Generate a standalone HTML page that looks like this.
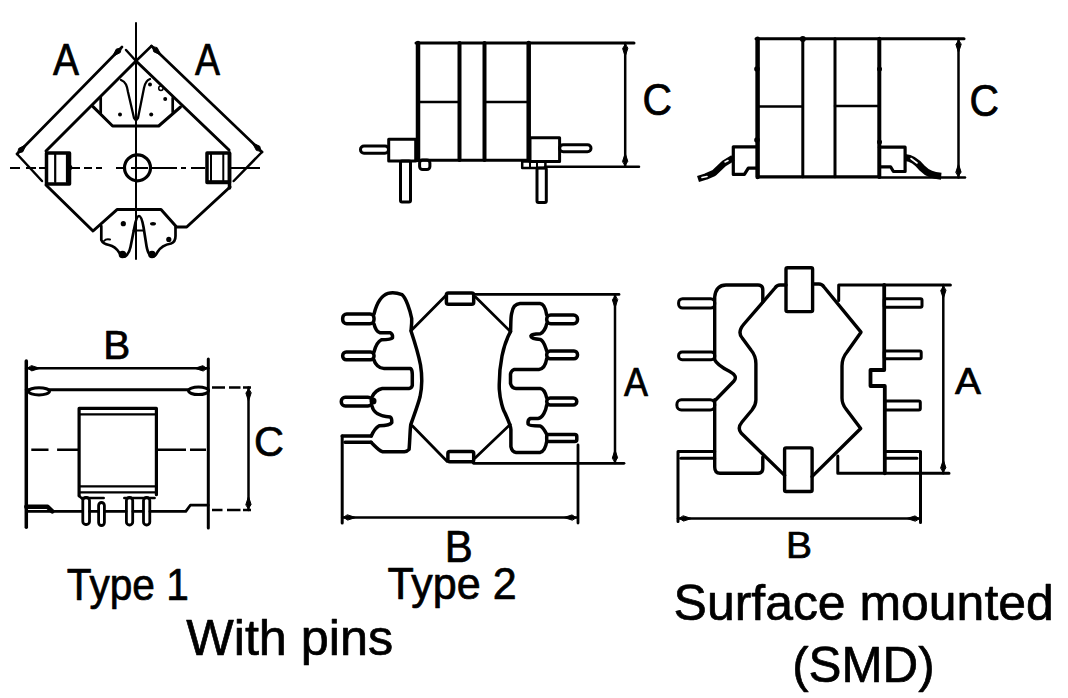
<!DOCTYPE html>
<html><head><meta charset="utf-8">
<style>
html,body{margin:0;padding:0;background:#fff;}
body{width:1068px;height:698px;overflow:hidden;}
svg{display:block;}
text{font-family:"Liberation Sans",sans-serif;fill:#000;}
</style></head>
<body>
<svg width="1068" height="698" viewBox="0 0 1068 698">
<rect width="1068" height="698" fill="#fff"/>
<g fill="none" stroke="#000" stroke-width="2.5" stroke-linejoin="round" stroke-linecap="round">

<!-- ============ TOP LEFT ============ -->
<g id="tl">
<line x1="136" y1="23" x2="136" y2="259" stroke-width="2"/>
<path d="M10,168 H20 M26,168 H36 M39,168 H45 M72,168 H80 M84,168 H92 M96,168 H102 M116,168 H124 M131,168 H148 M150,168 H177 M181,168 H186 M191,168 H205 M230,168 H260" stroke-width="2.2" stroke-linecap="butt"/>
<circle cx="137.5" cy="167.8" r="13" stroke-width="3.2"/>
<path d="M17,154 L122,47" stroke-width="2.7"/>
<path d="M151.5,46 L262,152" stroke-width="2.7"/>
<path d="M126,50 L136,61 L151.5,46" stroke-width="2.5"/>
<path d="M17,154 L42,181"/>
<path d="M262,152 L233.7,181"/>
<path d="M46,151 L136,61 L229,150" stroke-width="3"/>
<rect x="46.5" y="153" width="23" height="31" stroke-width="3.5"/>
<path d="M55.2,154 V182 M67,154 V182" stroke-width="2.2"/>
<circle cx="69.5" cy="167.6" r="2.8" fill="#000" stroke="none"/>
<rect x="207" y="153" width="22.5" height="29.5" stroke-width="3.5"/>
<path d="M211,154 V181 M223.3,154 V181" stroke-width="2"/>
<path d="M229.5,153 V188" stroke-width="3.5"/>
<path d="M208,181.5 H229" stroke-width="2.5"/>
<!-- upper ear -->
<path d="M93,106.6 L112.6,126 H158.7 L180.5,107" stroke-width="3"/>
<path d="M100.7,97 V113 M172.7,98 V112" stroke-width="2.7"/>
<path d="M121,80 C126,82 127,86 128,92 L134,118 Q136,122 138,118 L144,88 C145,83 147,80 150,79" stroke-width="2.3"/>
<!-- lower body -->
<path d="M46,185 L93,231 L117,209.6 H161 L176.6,227 H186.7 L230,187" stroke-width="3"/>
<path d="M101.3,226 V240 Q103,244 109,245 C114,246 117,249 119.5,253 Q122,257.5 125,256.5 Q129,254 130.5,247 L134.5,227 Q136.5,216 139,216 Q141.5,216 143.5,227 L146.5,246 Q148,255 152,256.5 Q155,257 157.5,252 C160,248 165,244.5 171,243.5 Q175.5,242 175.5,236 V227" stroke-width="2.7"/>
<path d="M133.5,230.5 H143.5" stroke-width="2"/>
<path d="M104,241 Q106,238.5 110,239.5" stroke-width="2"/>
</g>
<g id="tl-dots" fill="#000" stroke="none">
<circle cx="120" cy="114.6" r="2"/><circle cx="151.2" cy="114.6" r="2"/><circle cx="150" cy="84.5" r="2"/><circle cx="165.2" cy="99" r="2"/>
<circle cx="123.3" cy="223.7" r="2.6"/><ellipse cx="153" cy="223.7" rx="3" ry="1.8"/><circle cx="168.8" cy="239.4" r="2.6"/>
<circle cx="122.5" cy="254.5" r="3.8"/><circle cx="152" cy="254.5" r="3.8"/><circle cx="160.9" cy="88.3" r="2.2" fill="none" stroke="#000" stroke-width="1.5"/>
</g>

<!-- ============ TOP MIDDLE ============ -->
<g id="tm">
<path d="M416,43 H634" stroke-width="3"/>
<path d="M418,43 V160" stroke-width="4.5"/>
<path d="M459.5,43 V160 M484.5,43 V160" stroke-width="4"/>
<path d="M528.7,43 V160" stroke-width="4.5"/>
<path d="M418,160.2 H528.7" stroke-width="3"/>
<path d="M419,102 H459.5 M484.5,102 H528.7" stroke-width="2.5"/>
<path d="M545,166.8 H639" stroke-width="2.5"/>
<path d="M625.2,43 V166.8" stroke-width="2.5"/>
<rect x="388.7" y="139.3" width="27" height="21.7" stroke-width="3"/>
<rect x="360.5" y="146" width="28" height="7.2" rx="3.5" stroke-width="3"/>
<rect x="400.5" y="161" width="10" height="41" rx="1.5" stroke-width="3"/>
<rect x="419.6" y="160" width="10.3" height="9.5" rx="3" stroke-width="3"/>
<rect x="530" y="137.8" width="29.6" height="23.7" stroke-width="3"/>
<rect x="559.6" y="144.7" width="31.4" height="7" rx="3.5" stroke-width="3"/>
<rect x="522.2" y="161.5" width="23.2" height="6.4" stroke-width="2.5"/>
<path d="M530,161.5 V168 M537,161.5 V168" stroke-width="2"/>
<rect x="537" y="168" width="9.3" height="34.5" rx="1.5" stroke-width="3"/>
</g>

<!-- ============ TOP RIGHT ============ -->
<g id="tr">
<path d="M756,38.7 H964" stroke-width="3"/>
<path d="M757.6,38.7 V177" stroke-width="4.5"/>
<path d="M879.3,38.7 V177" stroke-width="4"/>
<path d="M757.6,176.8 H879.3" stroke-width="3.2"/>
<path d="M802.8,38.7 V176.7 M835,38.7 V176.7" stroke-width="3"/>
<path d="M757.6,106.5 H802.8 M835,106 H879.3" stroke-width="2.5"/>
<path d="M879.3,177.6 H965" stroke-width="2.5"/>
<path d="M958.5,39 V177.6" stroke-width="2.5"/>
<circle cx="802.8" cy="39" r="3" fill="#000" stroke="none"/>
<circle cx="757" cy="69" r="2.8" fill="#000" stroke="none"/>
<circle cx="757" cy="140" r="2.8" fill="#000" stroke="none"/>
<circle cx="879.5" cy="69" r="2.5" fill="#000" stroke="none"/>
<circle cx="879.5" cy="142" r="2.5" fill="#000" stroke="none"/>
<path d="M757,146.8 H733.3 V174.4 H744.4 L748.3,168.1 H757" stroke-width="3.2"/>
<path d="M733,158 L724,163.5 L714,173 L706,176.5 L698,179" stroke-width="6.5" stroke-linecap="butt"/>
<path d="M728,160.5 L725,162" stroke="#fff" stroke-width="1.6"/>
<path d="M707,176.5 L702,177.5" stroke="#fff" stroke-width="1.6"/>
<path d="M879.3,147.2 H905.1 V171.5 H893.4 L890.6,166.8 H881" stroke-width="3.2"/>
<path d="M905,157.5 C913,158 918,163 922,168 C928,174 933,175.5 941.2,176.2" stroke-width="7" stroke-linecap="butt"/>
<path d="M911,158.5 L917,163" stroke="#fff" stroke-width="1.6"/>
</g>

<!-- ============ BOTTOM LEFT ============ -->
<g id="bl">
<path d="M26.3,361 V527.3" stroke-width="3.5"/>
<path d="M208.3,359 V528" stroke-width="3"/>
<path d="M26.3,368.3 H208.3" stroke-width="2.5"/>
<path d="M26.3,389.8 H208.3" stroke-width="3"/>
<ellipse cx="39" cy="391.3" rx="10.5" ry="3.6" stroke-width="3" fill="#fff"/>
<ellipse cx="198.5" cy="390.8" rx="10" ry="3.8" stroke-width="3" fill="#fff"/>
<path d="M26.3,511.4 H82 M89.5,511.4 H98 M104.5,511.4 H126 M133,511.4 H143 M150,511.4 H185.8 L190.3,505.2 H208.3" stroke-width="2.8"/>
<path d="M26.3,506.8 H47.6 L52.3,511.4" stroke-width="4.5"/>
<path d="M212,387.6 H225 M229,387.6 H240.5 M243,387.6 H251" stroke-width="2.5" stroke-linecap="butt"/>
<path d="M212,510 H222.5 M227,510 H240.5 M243,510 H251" stroke-width="2.5" stroke-linecap="butt"/>
<path d="M248.5,387.6 V510" stroke-width="2.5"/>
<path d="M31.3,449.7 H48.5 M57.1,449.7 H79.3 M156.7,449.7 H186 M190,449.7 H206" stroke-width="2.5" stroke-linecap="butt"/>
<path d="M79.1,495.8 V408.4 H156.4 V494.7" stroke-width="3.2"/>
<path d="M79.1,414.4 H156.4" stroke-width="2.3"/>
<path d="M79.1,486.4 H156.4 M79.1,492.3 H156.4" stroke-width="2.3"/>
<path d="M79.1,495.8 L82.3,498.9" stroke-width="2.5"/>
<path d="M82.2,497.9 H103.7 M124.3,497.9 H154.6" stroke-width="2.5"/>
<rect x="82.8" y="497.5" width="6.7" height="27" rx="3" stroke-width="2.8"/>
<rect x="98.6" y="502.5" width="5.8" height="23" rx="2.9" stroke-width="2.8"/>
<rect x="126.4" y="497.5" width="6.3" height="27.5" rx="3" stroke-width="2.8"/>
<rect x="143.5" y="497.5" width="6.3" height="27.5" rx="3" stroke-width="2.8"/>
</g>

<!-- ============ BOTTOM MIDDLE ============ -->
<g id="bm" stroke-width="3.5">
<path d="M473.5,294.4 H619" stroke-width="2.8"/>
<path d="M473.5,463.3 H624" stroke-width="2.8"/>
<path d="M615,295 V463" stroke-width="2.5"/>
<path d="M342.2,436 V523" stroke-width="3"/>
<path d="M578,445 V523" stroke-width="2.8"/>
<path d="M342.2,517.5 H577.5" stroke-width="2.5"/>
<rect x="446.4" y="293" width="27.3" height="11.3" rx="2"/>
<rect x="447.9" y="451.6" width="25.8" height="10.1" rx="2"/>
<path d="M446.4,295 L411,330.8 M475.8,297.2 L510.5,331.6 M447,461.2 L412.3,425.7 M475.1,458.1 L510.2,424.4" stroke-width="2.8"/>
<!-- left comb -->
<path d="M374,314 C376,306 380,296 388,293.4 Q394,291.5 402,294.7 C406,298 410,310 411.7,318.5 C412,324 411,330 411,331 C414,340 418,352 420.5,365 C422.5,377 422.5,385 420.1,396.5 C418,405 413,418 410.7,424.9 C409.9,432 409.9,440 409.1,449.4 Q407,451.7 404.4,451.7 H382.3 C378,450 375,446 371,442.3"/>
<path d="M374,324 C375,328 377,332 380,332.7 H390.4 Q393,334 392.5,337.8 Q391,339.5 381.4,339.8 C377,342 375.5,346 374,352"/>
<path d="M374,360 C375,364 379,368.5 384,368.5 H410.7 Q412.3,370 412.3,374.5 V385.5 Q411.5,388.2 409,388.5 H382.3 C377,389.5 374.5,392 372,397"/>
<path d="M372,406 C373,411 376,416 390.2,417 Q392,418 391.8,422.5 Q390,425.5 379.2,425.7 C375,428 373,432 371.3,436"/>
<rect x="342.7" y="314" width="31.3" height="9.7" rx="4"/>
<rect x="342.7" y="352" width="31.3" height="7.8" rx="3.5"/>
<rect x="341.3" y="397.3" width="30.7" height="8.7" rx="4"/>
<path d="M342.2,436 H371.3 M345,442.3 H371.3"/>
<circle cx="373" cy="401" r="3.5" fill="#000" stroke="none"/>
<!-- right comb -->
<path d="M510.5,331.6 C511,326 510.5,318 511.6,313.7 Q513,304 520,303.6 H540 Q545,304 546.7,315"/>
<path d="M510.5,331.6 C507,338 504,346 502,356 C500,366 499,378 499.3,389.3 C500,400 503,410 505,413 C508,420 510.9,426 510.9,429.4 V446.6 Q512,452 516,452.4 H540.3 C545,451 546,446 546.7,441.6"/>
<path d="M546.7,323.7 C546,328 543,333 540.3,333.7 C535,334 530,334.5 531,336.5 Q532,339 540.3,339.4 C544,341 545,346 546.7,350.9"/>
<path d="M546.7,358.8 C546,363 544,369 539,369.5 H514 Q511,371 510.5,374 V383.6 Q512,388.6 516,388.6 H540.3 C544,389 545.5,393 546.7,397.9"/>
<path d="M546.7,405 C546,410 543,418 538,418.5 H530 Q527.5,420 528.1,424 Q529,425.9 540.3,425.9 C544,428 545.5,432 546.7,434.5"/>
<rect x="546.7" y="315" width="30.8" height="8.7" rx="4"/>
<rect x="546.7" y="350.9" width="30.8" height="7.9" rx="3.5"/>
<rect x="546.7" y="397.9" width="30.1" height="7.1" rx="3.5"/>
<rect x="546.7" y="434.5" width="30.1" height="7.1" rx="2"/>
</g>

<!-- ============ BOTTOM RIGHT ============ -->
<g id="br" stroke-width="3.4">
<rect x="786" y="267.7" width="26.6" height="43.9" rx="1.5"/>
<rect x="784.6" y="447.9" width="27.5" height="43.6" rx="1.5"/>
<!-- center body -->
<path d="M786,285 H780 Q777,285 775,288 L744,324 Q737,332 742.2,338 L751,350 Q756,356 755.9,364 V400 Q755.9,405 752,410 L742,422 Q737,428 741.1,433 L784.6,475.4"/>
<path d="M812.6,284 H819 Q822,284 824,287 L861,332.2 L847,352 Q842,358 842,366 V398 Q842,404 846,409 L860.7,428.5 L812,476.6"/>
<!-- left piece -->
<path d="M762.8,302.1 V290 Q762.8,285 758,285 H726 Q716,285 714.7,297 V359.7 C717,365 725,369 730.1,371.7 Q738,376 734,381 L715.8,399.8 H714.7 V467 Q714.7,473.2 720,473.2 H758 Q762.8,473.2 762.8,468 V457.1"/>
<!-- right piece -->
<path d="M838.7,300.4 V285 H950.4" stroke-width="3"/>
<path d="M884.2,285 V370 H870.5 V386 H884.8 V473.3" stroke-width="3.8"/>
<path d="M837.8,456 V473.3 H949" stroke-width="3"/>
<path d="M943.3,285 V473.3" stroke-width="2.5"/>
<!-- pins -->
<rect x="678.6" y="298.7" width="36.1" height="9.4" rx="4" stroke-width="3"/>
<rect x="678.6" y="352" width="36.1" height="7.7" rx="3.5" stroke-width="3"/>
<rect x="676.9" y="399.8" width="37.8" height="10.3" rx="4.5" stroke-width="3"/>
<path d="M714.7,451.4 H678 V521.5 M714.7,458.3 H681" stroke-width="3"/>
<rect x="884.2" y="298.7" width="37.8" height="8.6" rx="1.5" stroke-width="3"/>
<rect x="884.2" y="351.1" width="37" height="7.7" rx="1.5" stroke-width="3"/>
<rect x="884.8" y="401" width="35.5" height="9.1" rx="1.5" stroke-width="3"/>
<path d="M884.8,451.4 H920.5 V522.4 M884.8,458.3 H917" stroke-width="3"/>
<path d="M678,518.5 H920.5" stroke-width="2.5"/>
</g>

<g id="arrows" fill="#000" stroke="#000" stroke-width="1" stroke-linejoin="round">
<path d="M120.9,48.1 L116.3,49.1 L112.5,56.6 L120.0,52.7Z M18.1,152.9 L22.7,151.9 L26.5,144.4 L19.0,148.3Z M152.6,47.0 L153.7,51.7 L161.2,55.3 L157.3,47.9Z M260.9,151.0 L259.8,146.3 L252.3,142.7 L256.2,150.1Z M625.2,44.5 L622.6,48.5 L625.2,56.5 L627.8,48.5Z M625.2,165.3 L627.8,161.3 L625.2,153.3 L622.6,161.3Z M958.5,40.5 L955.9,44.5 L958.5,52.5 L961.1,44.5Z M958.5,176.1 L961.1,172.1 L958.5,164.1 L955.9,172.1Z M27.8,368.3 L31.8,370.9 L39.8,368.3 L31.8,365.7Z M206.8,368.3 L202.8,365.7 L194.8,368.3 L202.8,370.9Z M248.5,389.1 L245.9,393.1 L248.5,401.1 L251.1,393.1Z M248.5,508.5 L251.1,504.5 L248.5,496.5 L245.9,504.5Z M615.0,295.9 L612.4,299.9 L615.0,307.9 L617.6,299.9Z M615.0,461.8 L617.6,457.8 L615.0,449.8 L612.4,457.8Z M343.7,517.5 L347.7,520.1 L355.7,517.5 L347.7,514.9Z M576.0,517.5 L572.0,514.9 L564.0,517.5 L572.0,520.1Z M943.3,286.5 L940.7,290.5 L943.3,298.5 L945.9,290.5Z M943.3,471.8 L945.9,467.8 L943.3,459.8 L940.7,467.8Z M679.5,518.5 L683.5,521.1 L691.5,518.5 L683.5,515.9Z M919.0,518.5 L915.0,515.9 L907.0,518.5 L915.0,521.1Z"/>
</g>


<!-- ============ TEXT ============ -->
<g font-family="Liberation Sans, sans-serif" fill="#000" stroke="#000" stroke-width="0.7">
<text x="53" y="75.3" font-size="43.5" textLength="26" lengthAdjust="spacingAndGlyphs">A</text>
<text x="195" y="75.3" font-size="43.5" textLength="25" lengthAdjust="spacingAndGlyphs">A</text>
<text x="642.5" y="115" font-size="43.5" textLength="29.5" lengthAdjust="spacingAndGlyphs">C</text>
<text x="969.5" y="116" font-size="43.5" textLength="29.5" lengthAdjust="spacingAndGlyphs">C</text>
<text x="103.2" y="358.6" font-size="40" textLength="27" lengthAdjust="spacingAndGlyphs">B</text>
<text x="254" y="455.6" font-size="42" textLength="30" lengthAdjust="spacingAndGlyphs">C</text>
<text x="624" y="395.5" font-size="40.5" textLength="24" lengthAdjust="spacingAndGlyphs">A</text>
<text x="955" y="393.6" font-size="36" textLength="26" lengthAdjust="spacingAndGlyphs">A</text>
<text x="444.8" y="562" font-size="44" textLength="28" lengthAdjust="spacingAndGlyphs">B</text>
<text x="786" y="558.4" font-size="36" textLength="26" lengthAdjust="spacingAndGlyphs">B</text>
<text x="66.8" y="599.5" font-size="43.5" textLength="122" lengthAdjust="spacingAndGlyphs">Type 1</text>
<text x="387.4" y="599" font-size="43.5" textLength="129.3" lengthAdjust="spacingAndGlyphs">Type 2</text>
<text x="186.2" y="654.5" font-size="50.5" textLength="207" lengthAdjust="spacingAndGlyphs">With pins</text>
<text x="673.6" y="620" font-size="50" textLength="380.2" lengthAdjust="spacingAndGlyphs">Surface mounted</text>
<text x="792.2" y="681.5" font-size="50" textLength="142.4" lengthAdjust="spacingAndGlyphs">(SMD)</text>
</g>
</svg>
</body></html>
